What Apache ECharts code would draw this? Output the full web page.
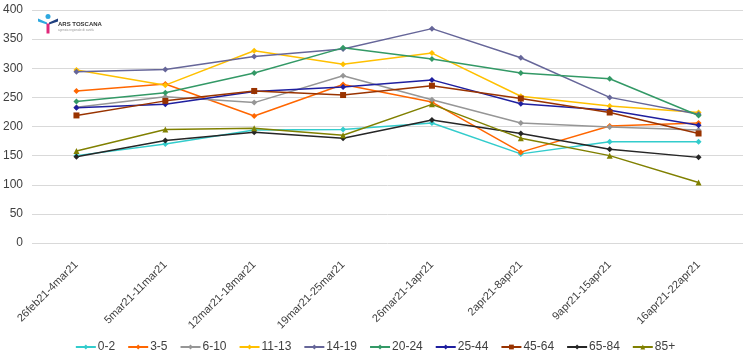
<!DOCTYPE html>
<html>
<head>
<meta charset="utf-8">
<script src="https://cdn.jsdelivr.net/npm/echarts@6/dist/echarts.min.js"></script>
<style>html,body{margin:0;padding:0;background:#fff}#c{width:750px;height:360px}</style>
</head>
<body>
<div id="c"></div>
<script>
var categories = ["26feb21-4mar21","5mar21-11mar21","12mar21-18mar21","19mar21-25mar21","26mar21-1apr21","2apr21-8apr21","9apr21-15apr21","16apr21-22apr21"];
var seriesNames = ["0-2","3-5","6-10","11-13","14-19","20-24","25-44","45-64","65-84","85+"];
var v0_2   = [150,170,194,195,206,153,174,174];
var v3_5   = [261,273,218,272,242,156,201,206];
var v6_10  = [233,251,241,287,246,206,199,194];
var v11_13 = [297,271,330,307,326,252,235,224];
var v14_19 = [294,298,320,333,368,318,250,221];
var v20_24 = [243,258,292,335,316,292,282,219];
var v25_44 = [232,238,260,268,280,239,228,202];
var v45_64 = [219,244,261,254,270,248,224,188];
var v65_84 = [148,176,190,180,211,188,161,147];
var v85p   = [158,195,197,185,238,180,150,104];
var yTicks = {min:0, max:400, interval:50};

var values = [v0_2,v3_5,v6_10,v11_13,v14_19,v20_24,v25_44,v45_64,v65_84,v85p];
var colors = ["#33CCCC","#FF6600","#969696","#FFC000","#666699","#339966","#1F1F9F","#993300","#262626","#808000"];
var symbols = ["diamond","diamond","diamond","diamond","diamond","diamond","diamond","rect","diamond","triangle"];

var series = seriesNames.map(function(n,i){
  return {
    name:n, type:'line', data:values[i],
    symbol:symbols[i], symbolSize:6,
    lineStyle:{width:1.5,color:colors[i]},
    itemStyle:{color:colors[i]},
    animation:false
  };
});

var chart = echarts.init(document.getElementById('c'));
chart.setOption({
  animation:false,
  color:colors,
  grid:{left:32,right:7,top:10,bottom:117},
  legend:{
    data:seriesNames, bottom:2, left:'center',
    itemWidth:20, itemHeight:6, itemGap:12,
    textStyle:{fontFamily:'Liberation Sans',fontSize:12,color:'#404040',padding:[0,0,0,-3]}
  },
  xAxis:{
    type:'category', data:categories, boundaryGap:true,
    axisLine:{show:false}, axisTick:{show:false},
    axisLabel:{rotate:45, interval:0, margin:20, fontFamily:'Liberation Sans', fontSize:11, color:'#404040'}
  },
  yAxis:{
    type:'value', min:yTicks.min, max:yTicks.max, interval:yTicks.interval,
    axisLine:{show:false}, axisTick:{show:false},
    axisLabel:{margin:9, fontFamily:'Liberation Sans', fontSize:12, color:'#404040'},
    splitLine:{lineStyle:{color:'#D9D9D9',width:1}}
  },
  graphic:[
    {type:'group', left:38, top:14, children:[
      {type:'circle', shape:{cx:10,cy:3,r:2.5}, style:{fill:'#2EA8DF'}},
      {type:'polygon', shape:{points:[[0,5],[9,9],[9,11],[0,8]]}, style:{fill:'#2EA8DF'}},
      {type:'polygon', shape:{points:[[11,9],[20,5],[20,8],[11,11]]}, style:{fill:'#1F3F7F'}},
      {type:'rect', shape:{x:8.5,y:10,width:3,height:10}, style:{fill:'#E0287A'}},
      {type:'text', left:20, top:8, style:{text:'ARS TOSCANA', font:'bold 6px Liberation Sans', fill:'#333'}},
      {type:'text', left:20, top:15, style:{text:'agenzia regionale di sanità', font:'3px Liberation Sans', fill:'#999'}}
    ]}
  ],
  series:series
});
</script>
</body>
</html>
